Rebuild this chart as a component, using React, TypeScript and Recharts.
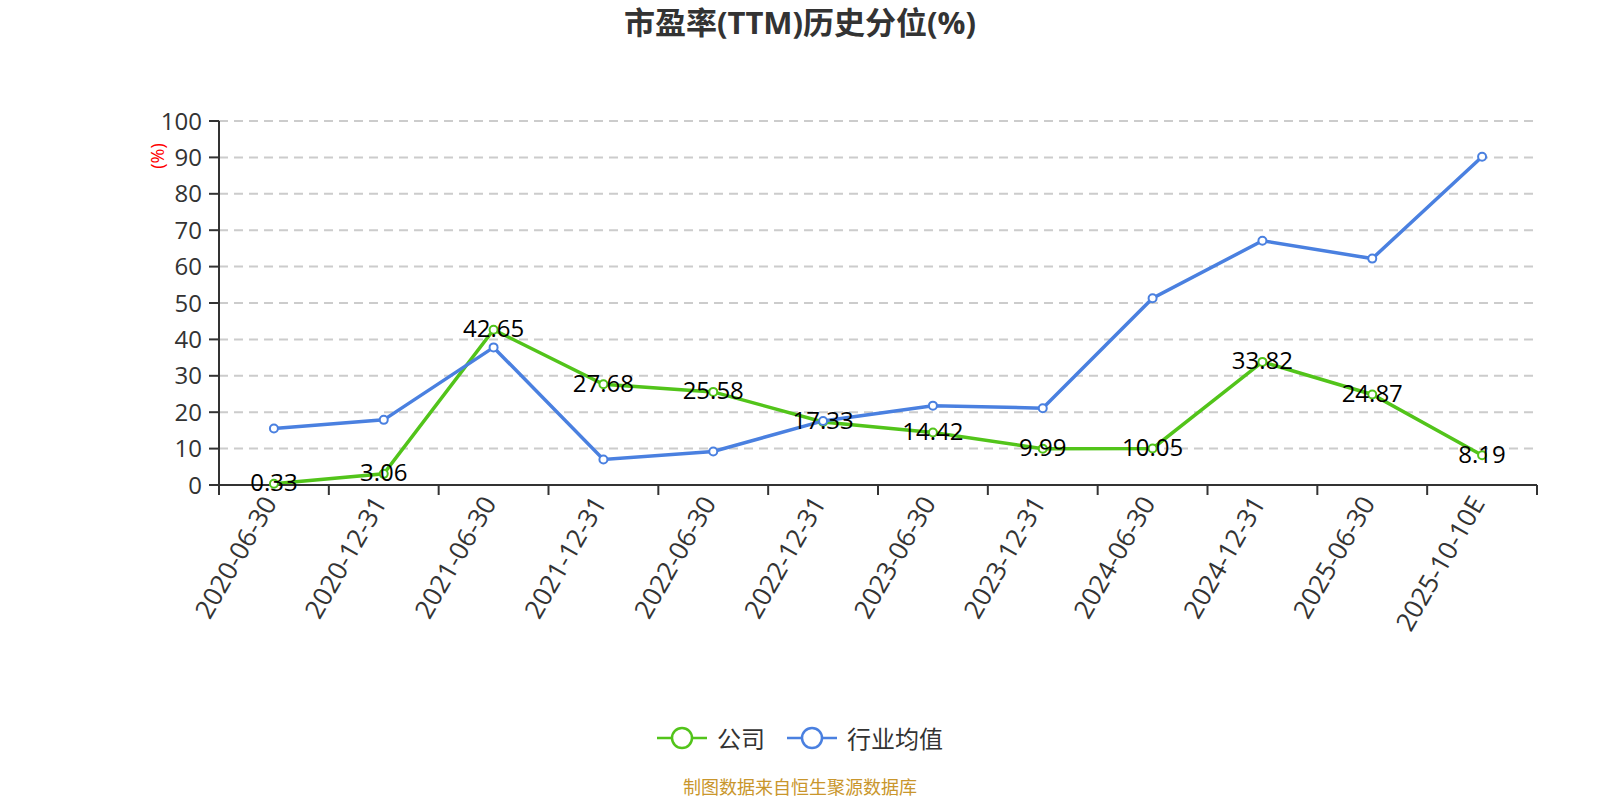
import React from "react";
import { LineChart, Line, XAxis, YAxis, CartesianGrid, LabelList } from "recharts";

const categories = ["2020-06-30", "2020-12-31", "2021-06-30", "2021-12-31", "2022-06-30", "2022-12-31", "2023-06-30", "2023-12-31", "2024-06-30", "2024-12-31", "2025-06-30", "2025-10-10E"];
const companyValues = [0.33, 3.06, 42.65, 27.68, 25.58, 17.33, 14.42, 9.99, 10.05, 33.82, 24.87, 8.19];
const industryValues = [15.5, 17.9, 37.8, 7.0, 9.2, 17.6, 21.8, 21.1, 51.3, 67.1, 62.2, 90.2];
const yTicks = [0, 10, 20, 30, 40, 50, 60, 70, 80, 90, 100];
const seriesNames = ["公司", "行业均值"];

const data = categories.map((c, i) => ({ date: c, company: companyValues[i], industry: industryValues[i] }));

const GREEN = "#52C41A";
const BLUE = "#4A80E0";
const FONT = "'Open Sans', 'Noto Sans CJK SC', sans-serif";
const CJK = "'Noto Sans CJK SC', sans-serif";

const PLOT_LEFT = 219;
const PLOT_RIGHT = 1537;
const PLOT_TOP = 121;
const PLOT_BOTTOM = 485;
const BAND = (PLOT_RIGHT - PLOT_LEFT) / categories.length;
const Y_AXIS_W = 60;
const X_AXIS_H = 150;

const XTick = (props: any) => {
  const { x, y, payload, index } = props;
  const last = index === categories.length - 1;
  const ay = y - 12;
  return (
    <g>
      <line x1={x - BAND / 2} y1={ay} x2={x - BAND / 2} y2={ay + 10} stroke="#333" strokeWidth={2} />
      {last && <line x1={x + BAND / 2} y1={ay} x2={x + BAND / 2} y2={ay + 10} stroke="#333" strokeWidth={2} />}
      <text
        transform={`translate(${x - 5},${y + 1}) rotate(-60)`}
        textAnchor="end"
        dominantBaseline="central"
        fontSize={26}
        fill="#333"
        fontFamily={FONT}
      >
        {payload.value}
      </text>
    </g>
  );
};

const ValueLabel = (props: any) => {
  const { x, y, value } = props;
  return (
    <text x={x} y={y - 2} textAnchor="middle" dominantBaseline="central" fontSize={24} fill="#000" fontFamily={FONT}>
      {value}
    </text>
  );
};

const LegendBox = () => {
  const colors = [GREEN, BLUE];
  return (
    <div style={{ position: "absolute", top: 724, left: 0, width: 1600, display: "flex", justifyContent: "center", gap: 22, fontFamily: CJK, fontSize: 24, lineHeight: "28px", color: "#333" }}>
      {seriesNames.map((n, i) => (
        <div key={n} style={{ display: "flex", alignItems: "center" }}>
          <svg width={50} height={28} style={{ marginRight: 10 }}>
            <line x1={0} y1={14} x2={50} y2={14} stroke={colors[i]} strokeWidth={2.5} />
            <circle cx={25} cy={14} r={10} fill="#fff" stroke={colors[i]} strokeWidth={2.5} />
          </svg>
          <span>{n}</span>
        </div>
      ))}
    </div>
  );
};

export default function App() {
  return (
    <div style={{ position: "absolute", left: 0, top: 0, width: 1600, height: 800, background: "#fff", overflow: "hidden" }}>
      <div style={{ position: "absolute", top: 4, left: 0, width: 1600, textAlign: "center", fontFamily: FONT, fontSize: 31, lineHeight: "36px", fontWeight: "bold", color: "#333" }}>
        市盈率(TTM)历史分位(%)
      </div>
      <div style={{ position: "absolute", left: 157, top: 156, transform: "translate(-50%,-50%) rotate(-90deg)", color: "red", fontFamily: FONT, fontSize: 18, lineHeight: "22px", whiteSpace: "nowrap" }}>
        (%)
      </div>
      <LineChart
        width={1600}
        height={800}
        data={data}
        margin={{ top: PLOT_TOP, right: 1600 - PLOT_RIGHT, bottom: 800 - PLOT_BOTTOM - X_AXIS_H, left: PLOT_LEFT - Y_AXIS_W }}
      >
        <CartesianGrid horizontal vertical={false} stroke="#ccc" strokeWidth={2} strokeDasharray="9 6" />
        <XAxis
          dataKey="date"
          interval={0}
          height={X_AXIS_H}
          padding={{ left: BAND / 2, right: BAND / 2 }}
          tick={<XTick />}
          tickSize={10}
          tickLine={false}
          axisLine={{ stroke: "#333", strokeWidth: 2 }}
        />
        <YAxis
          width={Y_AXIS_W}
          domain={[0, 100]}
          ticks={yTicks}
          interval={0}
          tickSize={10}
          tickMargin={7}
          tick={{ fontSize: 24, fill: "#333", fontFamily: FONT }}
          tickLine={{ stroke: "#333", strokeWidth: 2 }}
          axisLine={{ stroke: "#333", strokeWidth: 2 }}
        />
        <Line
          type="linear"
          dataKey="company"
          name={seriesNames[0]}
          stroke={GREEN}
          strokeWidth={3.5}
          dot={{ r: 4, fill: "#fff", stroke: GREEN, strokeWidth: 2 }}
          isAnimationActive={false}
        >
          <LabelList dataKey="company" content={<ValueLabel />} />
        </Line>
        <Line
          type="linear"
          dataKey="industry"
          name={seriesNames[1]}
          stroke={BLUE}
          strokeWidth={3.5}
          dot={{ r: 4, fill: "#fff", stroke: BLUE, strokeWidth: 2 }}
          isAnimationActive={false}
        />
      </LineChart>
      <LegendBox />
      <div style={{ position: "absolute", top: 775, left: 0, width: 1600, textAlign: "center", fontFamily: CJK, fontSize: 18, lineHeight: "22px", color: "#C9962C" }}>
        制图数据来自恒生聚源数据库
      </div>
    </div>
  );
}
